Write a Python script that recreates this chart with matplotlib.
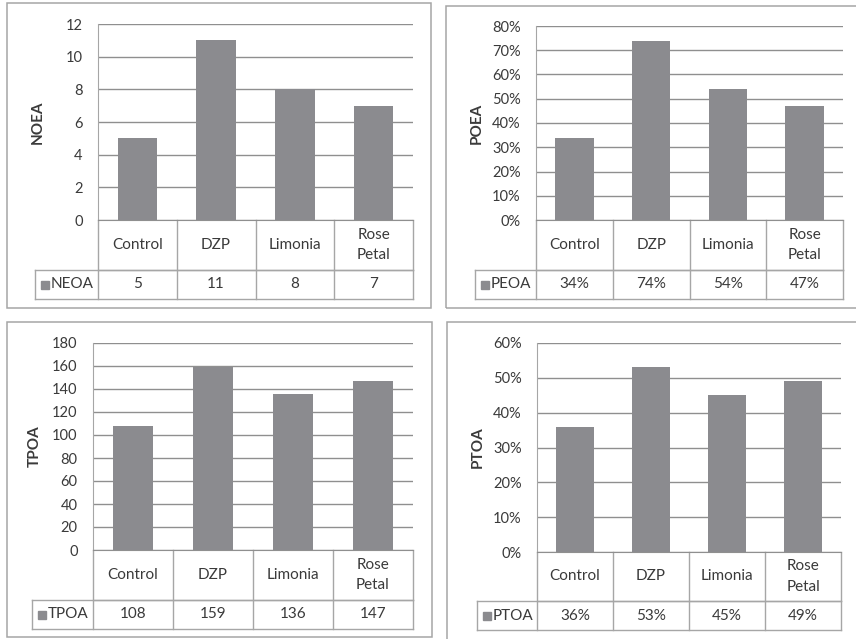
import numpy as np
import matplotlib
matplotlib.use("Agg")
import matplotlib.pyplot as plt
from matplotlib.patches import Rectangle
from matplotlib.ticker import FuncFormatter

plt.rcParams['font.family'] = ['Lato', 'DejaVu Sans']

W, H = 856, 639

categories = ['Control', 'DZP', 'Limonia', 'Rose\nPetal']

noea = [5, 11, 8, 7]
peoa = [0.34, 0.74, 0.54, 0.47]
tpoa = [108, 159, 136, 147]
ptoa = [0.36, 0.53, 0.45, 0.49]

bar_col = '#8b8b8f'
grid_col = '#8f8f8f'
line_col = '#a6a6a6'
txt_col = '#3a3a3a'

fig = plt.figure(figsize=(W / 100, H / 100), dpi=100)
fig.patch.set_facecolor('white')


def frame(x0, y0, x1, y1):
    # outer box round each chart, given in pixels
    r = Rectangle((x0 / W, 1 - y1 / H), (x1 - x0) / W, (y1 - y0) / H,
                  transform=fig.transFigure, fill=False, ec=line_col, lw=1.1)
    fig.add_artist(r)


def panel(vals, ylab, key, ymax, step, pct, box, ycat, ydat, xleg, xlab):
    x0, x1, ytop, yzero = box
    ax = fig.add_axes([x0 / W, 1 - yzero / H, (x1 - x0) / W, (yzero - ytop) / H])
    x = np.arange(len(vals))
    ax.bar(x, vals, width=0.5, color=bar_col, zorder=3)
    ax.set_xlim(-0.5, len(vals) - 0.5)
    ax.set_ylim(0, ymax)
    ax.set_yticks(np.arange(0, ymax + step / 2, step))
    if pct:
        ax.yaxis.set_major_formatter(FuncFormatter(lambda v, p: '%d%%' % round(v * 100)))
    ax.set_xticks([])
    ax.tick_params(axis='y', length=0, pad=11, labelsize=10.5, labelcolor=txt_col)
    ax.yaxis.grid(True, color=grid_col, lw=1)
    ax.set_axisbelow(True)
    for s in ['top', 'right']:
        ax.spines[s].set_visible(False)
    ax.spines['left'].set_color(line_col)
    ax.spines['bottom'].set_color(grid_col)

    # y label, placed by pixel position
    axh = yzero - ytop
    axw = x1 - x0
    ax.text((xlab - x0) / axw, 0.5, ylab, transform=ax.transAxes, rotation=90,
            ha='center', va='center', fontsize=11, fontweight='bold', color=txt_col)

    # data table under the bars
    tr = ax.get_xaxis_transform()
    hc = (ycat - yzero) / axh
    hd = (ydat - yzero) / axh
    n = len(vals)
    upx = n / axw
    xl = -0.5 - (x0 - xleg) * upx
    kw = dict(transform=tr, color=line_col, lw=1, clip_on=False)
    ax.plot([-0.5, n - 0.5], [-hc, -hc], **kw)
    ax.plot([xl, n - 0.5], [-hc, -hc], **kw)
    ax.plot([xl, n - 0.5], [-hd, -hd], **kw)
    for i in range(n + 1):
        ax.plot([i - 0.5, i - 0.5], [0, -hd], **kw)
    ax.plot([xl, xl], [-hc, -hd], **kw)
    for i in range(n):
        ax.text(i, -hc / 2, categories[i], transform=tr, ha='center', va='center',
                fontsize=11, color=txt_col, linespacing=1.6)
        s = '%d%%' % round(vals[i] * 100) if pct else '%d' % vals[i]
        ax.text(i, -(hc + hd) / 2, s, transform=tr, ha='center', va='center',
                fontsize=11, color=txt_col)
    ym = -(hc + hd) / 2
    ax.plot([xl + 9.5 * upx], [ym], marker='s', ms=5.5, color=bar_col,
            transform=tr, clip_on=False)
    ax.text(xl + 16 * upx, ym, key, transform=tr, ha='left', va='center',
            fontsize=11, color=txt_col)
    return ax


frame(7, 3, 431, 308)
frame(446, 6, 862, 308)
frame(7, 322, 432, 637)
frame(447, 322, 862, 645)

panel(noea, 'NOEA', 'NEOA', 12, 2, False, (98, 413, 24, 220), 270, 299, 35, 38)
panel(peoa, 'POEA', 'PEOA', 0.8, 0.1, True, (536, 843, 26, 220), 270, 299, 475, 477)
panel(tpoa, 'TPOA', 'TPOA', 180, 20, False, (93, 413, 343, 550), 600, 629, 32, 35)
panel(ptoa, 'PTOA', 'PTOA', 0.6, 0.1, True, (537, 841, 343, 552), 601, 630, 477, 478)

fig.savefig('out.png', dpi=100)
